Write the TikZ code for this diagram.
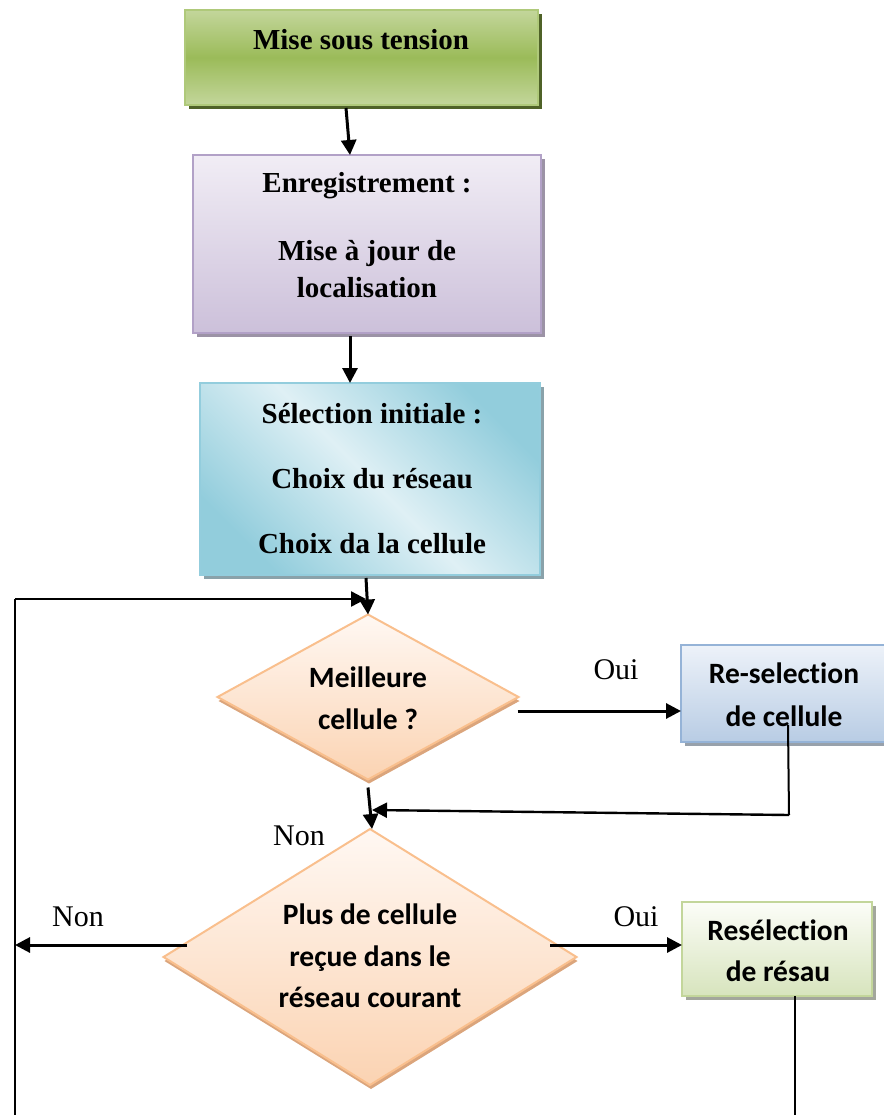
\documentclass[tikz,border=0pt]{standalone}
\usepackage{fontspec}
\setmainfont{Liberation Serif}
\newfontfamily\calib[Ligatures=NoCommon]{Carlito}
\usetikzlibrary{arrows.meta,shapes.geometric,shadows,calc}

% colours of the boxes
\definecolor{grnMid}{HTML}{9BBB59}
\definecolor{grnEdge}{HTML}{C3D69B}
\definecolor{grnLine}{HTML}{AFC97A}
\definecolor{grnShadow}{HTML}{4F6228}
\definecolor{purTop}{HTML}{F1EDF5}
\definecolor{purBot}{HTML}{CCC0DA}
\definecolor{purLine}{HTML}{B2A1C7}
\definecolor{purShadow}{HTML}{9C93A6}
\definecolor{cyDark}{HTML}{92CDDC}
\definecolor{cyLight}{HTML}{DFF0F5}
\definecolor{cyLine}{HTML}{93CDDD}
\definecolor{cyShadow}{HTML}{8AA2AA}
\definecolor{peTop}{HTML}{FFF8F3}
\definecolor{peBot}{HTML}{FBD3B2}
\definecolor{peLine}{HTML}{F9BF8D}
\definecolor{peShadow}{HTML}{DBA57C}
\definecolor{blTop}{HTML}{EDF2F9}
\definecolor{blBot}{HTML}{B8CCE4}
\definecolor{blLine}{HTML}{95B3D7}
\definecolor{blShadow}{HTML}{98A1AB}
\definecolor{lgTop}{HTML}{FCFDF8}
\definecolor{lgBot}{HTML}{D7E4BD}
\definecolor{lgLine}{HTML}{C3D69B}
\definecolor{lgShadow}{HTML}{A3A79C}

\tikzset{
  boxbase/.style={rectangle, inner sep=0pt, outer sep=0pt, line width=2pt},
  shadowed/.style={general shadow={shadow xshift=4pt, shadow yshift=-4pt, fill=#1}},
  diamondbase/.style={diamond, inner sep=0pt, outer sep=0pt, line width=2pt,
    draw=peLine, top color=peTop, bottom color=peBot,
    general shadow={shadow xshift=1pt, shadow yshift=-4pt, fill=peShadow}},
  serifbold/.style={font=\fontsize{29}{34}\selectfont\bfseries, anchor=base, inner sep=0pt},
  calibbold/.style={font=\calib\bfseries\fontsize{29.5}{34}\selectfont, anchor=base, inner sep=0pt},
  answer/.style={font=\fontsize{30}{34}\selectfont, anchor=base, inner sep=0pt},
  arr/.style={line width=3pt, -{Triangle[length=15pt,width=15pt]}},
  thinarr/.style={line width=2.4pt, -{Triangle[length=15pt,width=15pt]}},
  thinline/.style={line width=2pt},
}

\begin{document}
\begin{tikzpicture}[x=1pt,y=-1pt]
\useasboundingbox (0,0) rectangle (883,1115);

% ---------- boxes ----------
\node[boxbase, shadowed=grnShadow, draw=grnLine,
      top color=grnEdge, bottom color=grnEdge, middle color=grnMid,
      minimum width=353pt, minimum height=95pt] (b1) at (361.5,57.5) {};
\node[boxbase, shadowed=purShadow, draw=purLine,
      top color=purTop, bottom color=purBot,
      minimum width=348pt, minimum height=178pt] (b2) at (367,244) {};
\node[boxbase, shadowed=cyShadow, draw=cyLine,
      top color=cyDark, bottom color=cyDark, middle color=cyLight, shading angle=-45,
      minimum width=340pt, minimum height=192pt] (b3) at (370,479) {};
\node[diamondbase, minimum width=301pt, minimum height=165pt] (d1) at (368,697) {};
\node[boxbase, shadowed=blShadow, draw=blLine,
      top color=blTop, bottom color=blBot,
      minimum width=206pt, minimum height=97pt] (b4) at (784,693.5) {};
\node[diamondbase, minimum width=413pt, minimum height=256pt] (d2) at (370,957) {};
\node[boxbase, shadowed=lgShadow, draw=lgLine,
      top color=lgTop, bottom color=lgBot,
      minimum width=190pt, minimum height=94pt] (b5) at (777,949) {};

% ---------- texts ----------
\node[serifbold] (t1) at (361,50) {Mise sous tension};
\node[serifbold] (t2a) at (367,193) {Enregistrement :};
\node[serifbold] (t2b) at (367,260) {Mise à jour de};
\node[serifbold] (t2c) at (367,297) {localisation};
\node[serifbold] (t3a) at (372,423) {Sélection initiale :};
\node[serifbold] (t3b) at (372,488) {Choix du réseau};
\node[serifbold] (t3c) at (372,553) {Choix da la cellule};
\node[calibbold] (t4a) at (368,687) {Meilleure};
\node[calibbold] (t4b) at (368,729) {cellule ?};
\node[calibbold] (t5a) at (784,683) {Re-selection};
\node[calibbold] (t5b) at (784,726) {de cellule};
\node[calibbold] (t6a) at (370,924) {Plus de cellule};
\node[calibbold] (t6b) at (370,966) {reçue dans le};
\node[calibbold] (t6c) at (370,1007) {réseau courant};
\node[calibbold] (t7a) at (778,940) {Resélection};
\node[calibbold] (t7b) at (778,981) {de résau};

\node[answer] (oui1) at (616,679) {Oui};
\node[answer] (non1) at (299,845) {Non};
\node[answer] (non2) at (78,926) {Non};
\node[answer] (oui2) at (636,926) {Oui};

% ---------- connector end points ----------
\coordinate (j1) at (372,810);
\coordinate (c4) at (788,725);
\coordinate (c4b) at (789,815);
\coordinate (lft) at (15,945);
\coordinate (lbot) at (15,1115);
\coordinate (ltop) at (15,599);
\coordinate (ltip) at (366,599);
\coordinate (rbot) at (795,1115);
\coordinate (o1) at ($(d1.east)+(-1,14)$);
\coordinate (o2) at (550,945);
\coordinate (n2) at (187,945);

% ---------- connectors ----------
\draw[arr] ([xshift=-15.5pt,yshift=-3pt]b1.south) -- ([xshift=-17pt]b2.north);
\draw[arr] ([xshift=-17pt,yshift=-3pt]b2.south) -- ([xshift=-20pt]b3.north);
\draw[arr] ([xshift=-4pt,yshift=-3pt]b3.south) -- (d1.north);
\draw[arr] (o1) -- (o1 -| b4.west);
\draw[arr] ([yshift=-8pt]d1.south) -- ([xshift=2pt]d2.north);
\draw[thinline] (c4) -- (c4b);
\draw[thinarr] (c4b) -- (j1);
\draw[arr] (n2) -- (lft);
\draw[arr] (o2) -- (o2 -| b5.west);
\draw[thinline] ([xshift=18pt]b5.south) -- (rbot);
\draw[thinline] (lbot) -- (ltop);
\draw[thinarr] (ltop) -- (ltip);
\end{tikzpicture}
\end{document}
